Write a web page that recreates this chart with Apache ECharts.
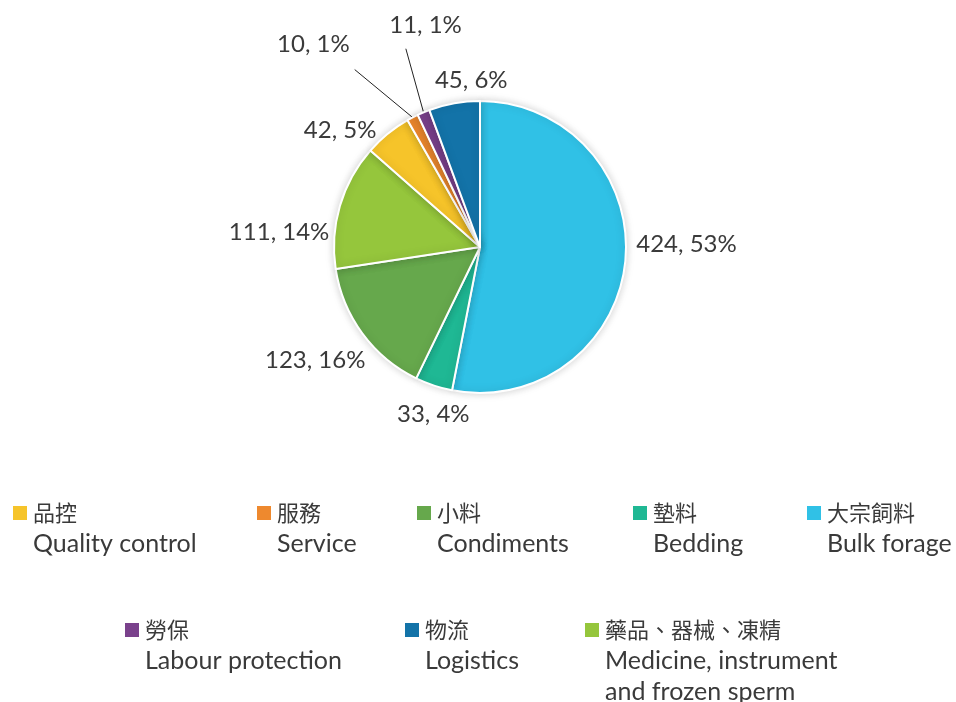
<!DOCTYPE html>
<html>
<head>
<meta charset="utf-8">
<script src="https://cdn.jsdelivr.net/npm/echarts@6/dist/echarts.min.js"></script>
<style>
  html, body { margin: 0; padding: 0; background: #fff; }
  #chart { width: 956px; height: 702px; }
</style>
</head>
<body>
<div id="chart"></div>
<script>
  // slices, clockwise from 12 o'clock
  const names = ['大宗飼料', '墊料', '小料', '藥品、器械、凍精', '品控', '服務', '勞保', '物流']
  const englishNames = ['Bulk forage', 'Bedding', 'Condiments', 'Medicine, instrument\nand frozen sperm',
    'Quality control', 'Service', 'Labour protection', 'Logistics']
  const values = [424, 33, 123, 111, 42, 10, 11, 45]

  const colors = ['#30c1e6', '#1fb894', '#66a84c', '#95c63c', '#f6c42a', '#ee892e', '#7a418c', '#1373a8']
  // label line lengths and nudges so the labels sit where the original put them
  const lineLen = [10, 10, 10, 10, 10, 54, 69, 10]
  const lineLen2 = [0, 0, 0, 0, 0, 33, -9, 0]
  const labelNudge = [[-4, -18], [44, 19], [16, 21], [4, 29], [0, 4], [0, -25], [61, -23], [60, -13]]

  // legend boxes: [icon left, icon centre y]
  const legendOrder = ['品控', '服務', '小料', '墊料', '大宗飼料', '勞保', '物流', '藥品、器械、凍精']
  const legendSpots = [[11, 513], [255, 513], [415, 513], [631, 513], [805, 513], [123, 630], [403, 630], [583, 630]]

  const fontLatin = 'Lato, "Noto Sans CJK TC", sans-serif'
  const lineH = 31
  const englishOf = {}
  names.forEach((n, i) => { englishOf[n] = englishNames[i] })

  const chart = echarts.init(document.getElementById('chart'))

  const legends = legendOrder.map((name, i) => {
    const enLines = englishOf[name].split('\n')
    const n = enLines.length + 1
    // empty lines above keep the icon level with the first (Chinese) line
    const k = 2 * n - 1
    return {
      data: [name],
      left: legendSpots[i][0],
      top: legendSpots[i][1] - k * lineH / 2,
      padding: 0,
      itemWidth: 16,
      itemHeight: 16,
      icon: 'rect',
      selectedMode: false,
      formatter: nm => '{sp| }\n'.repeat(n - 1) + '{cn|' + nm + '}\n' +
        enLines.map(t => '{en|' + t + '}').join('\n'),
      textStyle: {
        fontFamily: fontLatin,
        color: '#3a3a3a',
        lineHeight: lineH,
        rich: {
          sp: { fontSize: 22, lineHeight: lineH },
          cn: { fontSize: 22, lineHeight: lineH, fontFamily: '"Noto Sans CJK TC", sans-serif', color: '#3a3a3a' },
          en: { fontSize: 25, lineHeight: lineH, fontFamily: fontLatin, color: '#3a3a3a' }
        }
      }
    }
  })

  chart.setOption({
    animation: false,
    color: colors,
    legend: legends,
    series: [{
      type: 'pie',
      center: [480, 247],
      radius: 146,
      startAngle: 90,
      percentPrecision: 0,
      avoidLabelOverlap: false,
      data: names.map((n, i) => ({
        name: n,
        value: values[i],
        labelLine: { show: values[i] < 20, length: lineLen[i], length2: lineLen2[i] }
      })),
      itemStyle: {
        borderColor: '#fff',
        borderWidth: 2,
        shadowBlur: 8,
        shadowColor: 'rgba(0,0,0,0.18)'
      },
      label: {
        position: 'outside',
        formatter: '{c}, {d}%',
        fontFamily: fontLatin,
        fontSize: 24,
        color: '#3a3a3a',
        distanceToLabelLine: 5
      },
      labelLine: {
        lineStyle: { color: '#222', width: 1 }
      },
      labelLayout: params => {
        const out = {
          dx: labelNudge[params.dataIndex][0],
          dy: labelNudge[params.dataIndex][1]
        }
        const pts = params.labelLinePoints
        // one straight leader from the slice edge, as in the original
        if (pts && pts.length > 1) out.labelLinePoints = [pts[0], pts[pts.length - 1]]
        return out
      }
    }]
  })
</script>
</body>
</html>
